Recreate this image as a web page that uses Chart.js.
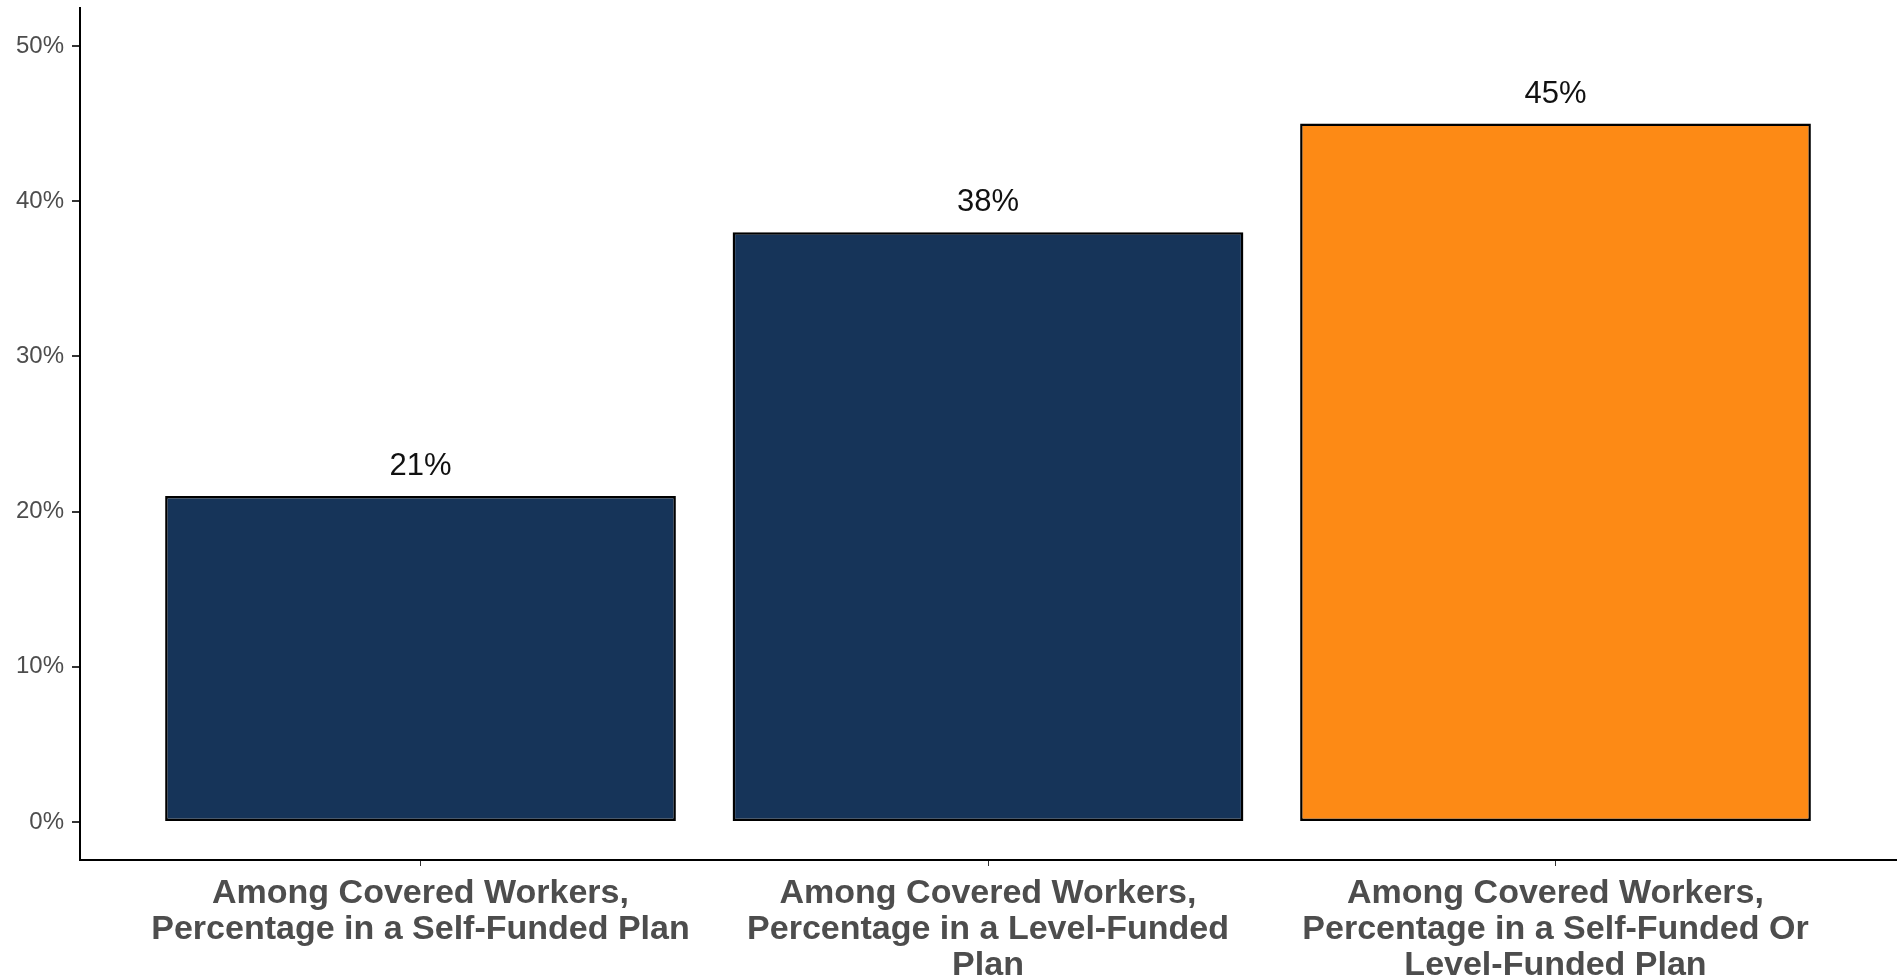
<!DOCTYPE html>
<html>
<head>
<meta charset="utf-8">
<script src="https://cdn.jsdelivr.net/npm/chart.js@4.4.1/dist/chart.umd.min.js"></script>
<style>
  html, body { margin: 0; padding: 0; background: #ffffff; }
  #wrap { width: 1900px; height: 978px; }
</style>
</head>
<body>
<div id="wrap"><canvas id="myChart" width="1900" height="978"></canvas></div>
<script>
// data
var categories = [
    ['Among Covered Workers,', 'Percentage in a Self-Funded Plan'],
    ['Among Covered Workers,', 'Percentage in a Level-Funded', 'Plan'],
    ['Among Covered Workers,', 'Percentage in a Self-Funded Or', 'Level-Funded Plan']
];
var values = [21, 38, 45];
var barColors = ['#163459', '#163459', '#fd8a15'];
var yTicks = [0, 10, 20, 30, 40, 50];

var points = values.map((v, i) => ({x: i, y: v}));

// labels above the bars
var valueLabels = {
    id: 'valueLabels',
    afterDatasetsDraw: function(chart) {
        var c = chart.ctx;
        var meta = chart.getDatasetMeta(0);
        c.save();
        c.font = '31px "Liberation Sans", Arial, sans-serif';
        c.fillStyle = '#111111';
        c.textAlign = 'center';
        c.textBaseline = 'alphabetic';
        meta.data.forEach(function(bar, i) {
            c.fillText(values[i] + '%', bar.x, bar.y - 21);
        });
        c.restore();
    }
};

function noPad(scale) {
    scale.paddingTop = 0;
    scale.paddingBottom = 0;
    scale.paddingLeft = 0;
    scale.paddingRight = 0;
}

var ctx = document.getElementById('myChart').getContext('2d');
var myChart = new Chart(ctx, {
    type: 'bar',
    data: {
        datasets: [{
            data: points,
            backgroundColor: barColors,
            borderColor: '#000000',
            borderWidth: 2.5,
            borderSkipped: false,
            barPercentage: 0.9,
            categoryPercentage: 1.0
        }]
    },
    options: {
        responsive: false,
        animation: false,
        layout: { padding: { top: 8, right: 4, left: 0, bottom: 0 } },
        plugins: {
            legend: { display: false },
            tooltip: { enabled: false }
        },
        scales: {
            x: {
                type: 'linear',
                offset: false,
                min: -0.6,
                max: 2.6,
                afterBuildTicks: function(scale) {
                    scale.ticks = categories.map((c, i) => ({value: i}));
                },
                afterFit: function(scale) { scale.height = 118; noPad(scale); },
                grid: { offset: false, drawOnChartArea: false, tickLength: 6, color: '#333333', lineWidth: 1 },
                border: { color: '#000000', width: 2 },
                ticks: {
                    autoSkip: false,
                    maxRotation: 0,
                    padding: 10,
                    color: '#4d4d4d',
                    font: { family: '"Liberation Sans", Arial, sans-serif', size: 34, weight: 'bold', lineHeight: 1.05 },
                    callback: function(v) { return categories[v]; }
                }
            },
            y: {
                min: -2.45,
                max: 52.45,
                afterBuildTicks: function(scale) {
                    scale.ticks = yTicks.map(v => ({value: v}));
                },
                afterFit: function(scale) { scale.width = 80; noPad(scale); },
                grid: { drawOnChartArea: false, tickLength: 8, color: '#333333', lineWidth: 2 },
                border: { color: '#000000', width: 2 },
                ticks: {
                    padding: 8,
                    color: '#4d4d4d',
                    font: { family: '"Liberation Sans", Arial, sans-serif', size: 24 },
                    callback: function(v) { return v + '%'; }
                }
            }
        }
    },
    plugins: [valueLabels]
});
</script>
</body>
</html>
